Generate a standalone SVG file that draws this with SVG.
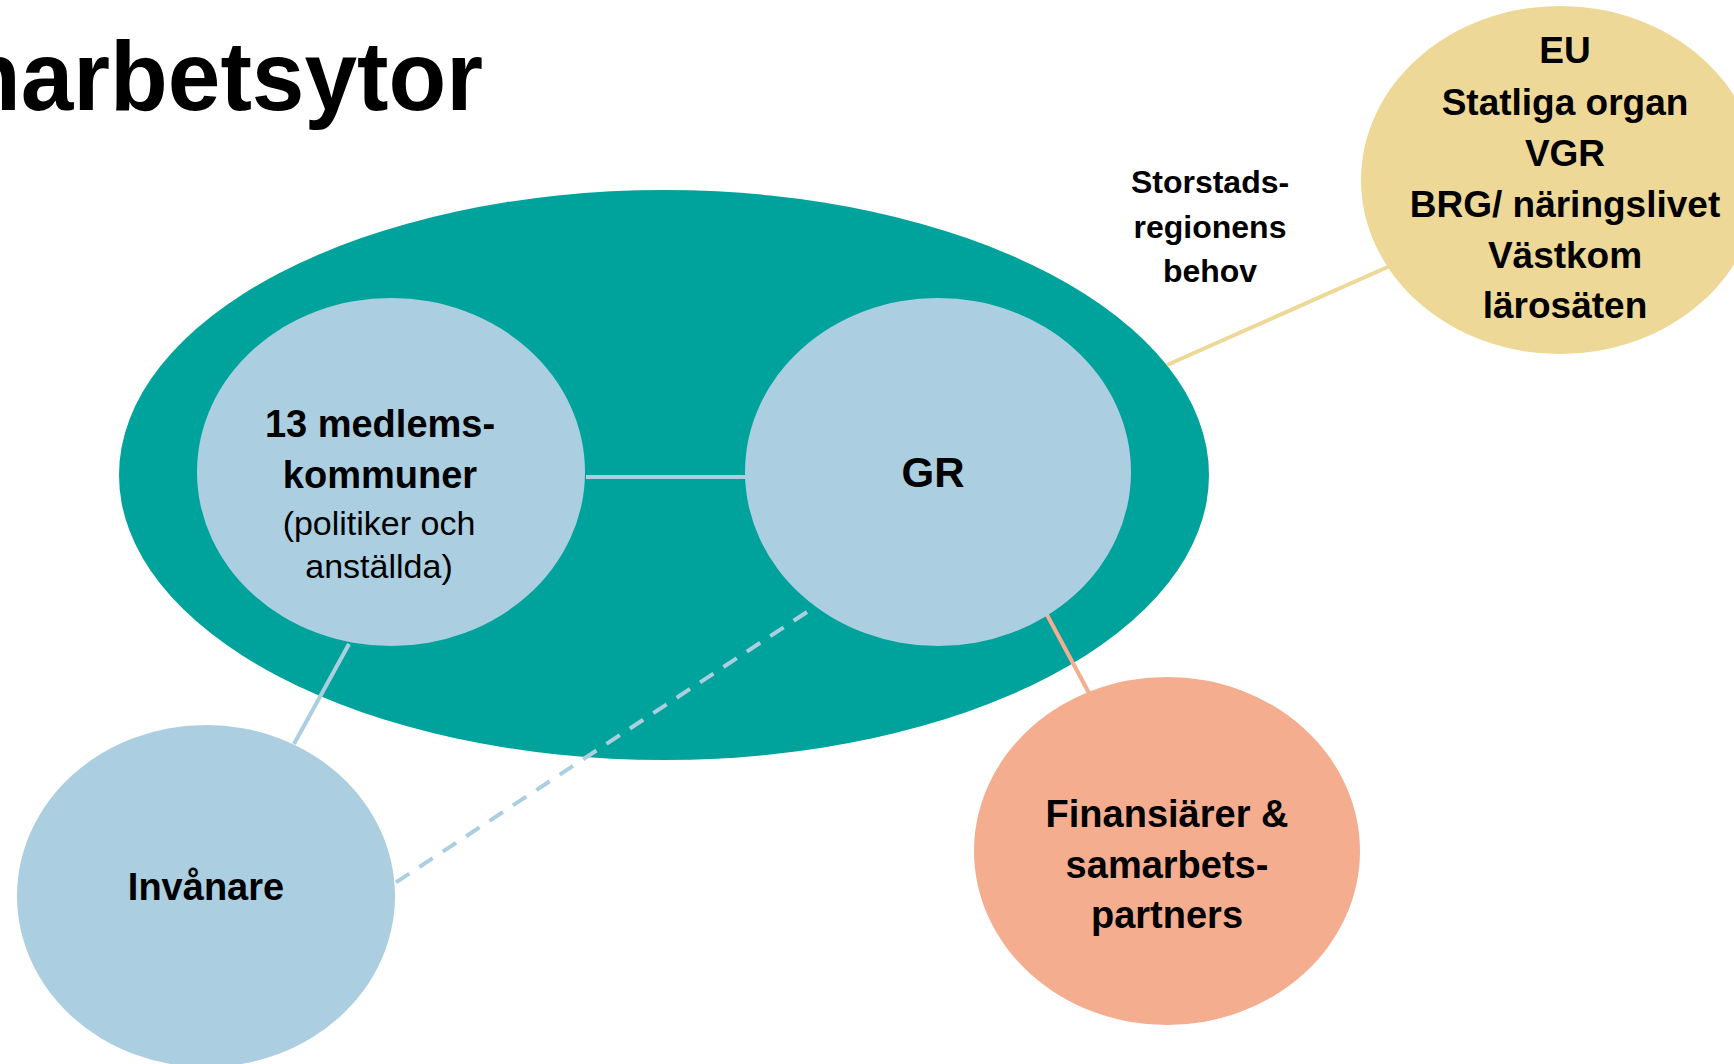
<svg xmlns="http://www.w3.org/2000/svg" width="1734" height="1064" viewBox="0 0 1734 1064">
<style>
.t{font-family:"Liberation Sans",Arial,sans-serif;fill:#000;text-anchor:middle}
.b{font-weight:bold}
.r{font-weight:normal}
.conn{fill:none;stroke-width:4}
</style>
<rect width="1734" height="1064" fill="#fff"/>
<text class="t b" x="-37" y="110" font-size="98" style="text-anchor:start" textLength="520" lengthAdjust="spacingAndGlyphs">narbetsytor</text>
<g id="outer"><ellipse cx="664" cy="475" rx="545" ry="285" fill="#00A39B"/></g>
<g id="connectors">
<line class="conn" x1="1167" y1="365" x2="1390" y2="266" stroke="#EDD897"/>
<line class="conn" x1="586" y1="477" x2="746" y2="477" stroke="#ABCFE0" stroke-width="3.5"/>
<line class="conn" x1="349" y1="644" x2="294" y2="744" stroke="#ABCFE0" stroke-width="3.5"/>
<line class="conn" x1="807" y1="612" x2="395" y2="883" stroke="#ABCFE0" stroke-dasharray="16 12"/>
<line class="conn" x1="1046" y1="613" x2="1089" y2="693" stroke="#F5AD90"/>
</g>
<g id="kommuner">
<ellipse cx="391" cy="472" rx="194" ry="174" fill="#ABCFE0"/>
<text class="t b" x="380" y="437" font-size="38">13 medlems-</text>
<text class="t b" x="380" y="488" font-size="38">kommuner</text>
<text class="t r" x="379" y="535" font-size="34">(politiker och</text>
<text class="t r" x="379" y="578" font-size="34">anställda)</text>
</g>
<g id="gr">
<ellipse cx="938" cy="472" rx="193" ry="174" fill="#ABCFE0"/>
<text class="t b" x="933" y="487" font-size="42">GR</text>
</g>
<g id="invanare">
<ellipse cx="206" cy="896" rx="189" ry="171" fill="#ABCFE0"/>
<text class="t b" x="206" y="900" font-size="38">Invånare</text>
</g>
<g id="finansiarer">
<ellipse cx="1167" cy="851" rx="193" ry="174" fill="#F5AD90"/>
<text class="t b" x="1167" y="827" font-size="38">Finansiärer &amp;</text>
<text class="t b" x="1167" y="878" font-size="38">samarbets-</text>
<text class="t b" x="1167" y="928" font-size="38">partners</text>
</g>
<g id="externa">
<ellipse cx="1560" cy="180" rx="199" ry="174" fill="#EDD897"/>
<text class="t b" x="1565" y="63" font-size="37">EU</text>
<text class="t b" x="1565" y="115" font-size="37">Statliga organ</text>
<text class="t b" x="1565" y="166" font-size="37">VGR</text>
<text class="t b" x="1565" y="217" font-size="37">BRG/ näringslivet</text>
<text class="t b" x="1565" y="268" font-size="37">Västkom</text>
<text class="t b" x="1565" y="318" font-size="37">lärosäten</text>
</g>
<g id="storstad">
<text class="t b" x="1210" y="193" font-size="32">Storstads-</text>
<text class="t b" x="1210" y="238" font-size="32">regionens</text>
<text class="t b" x="1210" y="282" font-size="32">behov</text>
</g>
</svg>
